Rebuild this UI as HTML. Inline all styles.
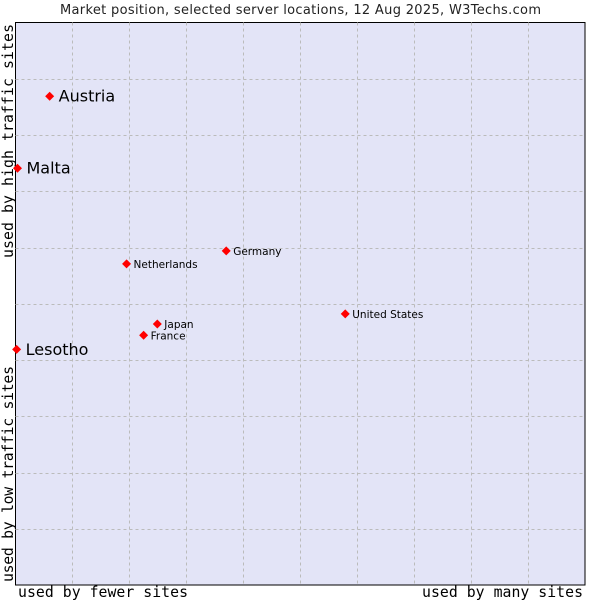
<!DOCTYPE html>
<html><head><meta charset="utf-8"><style>
body{margin:0;background:#fff;width:600px;height:600px;overflow:hidden}
svg{display:block}
</style></head><body>
<svg id="chart" width="600" height="600" xmlns="http://www.w3.org/2000/svg">
<text x="60" y="14" textLength="481" font-family="DejaVu Sans, sans-serif" font-size="13" fill="#222">Market position, selected server locations, 12 Aug 2025, W3Techs.com</text>
<rect x="15.5" y="22.5" width="569.5" height="562.5" fill="#e3e4f7" stroke="#000" stroke-width="1"/>
<g id="grid"></g>
<g id="points"></g>
<text x="18" y="597" textLength="170" font-family="DejaVu Sans Mono, Liberation Mono, monospace" font-size="14.8" fill="#000">used by fewer sites</text>
<text x="422" y="597" textLength="161" font-family="DejaVu Sans Mono, Liberation Mono, monospace" font-size="14.8" fill="#000">used by many sites</text>
<text transform="translate(13,258) rotate(-90)" textLength="234" font-family="DejaVu Sans Mono, Liberation Mono, monospace" font-size="14.8" fill="#000">used by high traffic sites</text>
<text transform="translate(13,582) rotate(-90)" textLength="216" font-family="DejaVu Sans Mono, Liberation Mono, monospace" font-size="14.8" fill="#000">used by low traffic sites</text>
</svg>
<script>
const names=["Austria","Malta","Lesotho","Netherlands","Germany","Japan","France","United States"];
const xValues=[6.0,0.35,0.2,19.5,37.0,24.9,22.5,57.9];
const yValues=[86.9,74.1,41.9,57.1,59.4,46.4,44.4,48.2];
const bigLabel=[true,true,true,false,false,false,false,false];
const gridSteps=[1,2,3,4,5,6,7,8,9];
const L=15.5,R=585,T=22.5,B=585;
const xs=v=>L+(R-L)*v/100, ys=v=>B-(B-T)*v/100;
const NS="http://www.w3.org/2000/svg";
const grid=document.getElementById('grid'), pts=document.getElementById('points');
gridSteps.forEach(s=>{
  const v=document.createElementNS(NS,'line');
  
  
  const x=Math.round(xs(s*10))+0.5;
  v.setAttribute('x1',x);v.setAttribute('x2',x);v.setAttribute('y1',T);v.setAttribute('y2',B);
  v.setAttribute('stroke','#bbb');v.setAttribute('stroke-dasharray','3,3');
  grid.appendChild(v);
  const h=document.createElementNS(NS,'line');
  
  
  const y=Math.round(ys(s*10))+0.5;
  h.setAttribute('y1',y);h.setAttribute('y2',y);h.setAttribute('x1',L);h.setAttribute('x2',R);
  h.setAttribute('stroke','#bbb');h.setAttribute('stroke-dasharray','3,3');
  grid.appendChild(h);
});
names.forEach((n,i)=>{
  const x=xs(xValues[i]), y=ys(yValues[i]);
  const p=document.createElementNS(NS,'polygon');
  
  
  p.setAttribute('points',`${x},${y-4.5} ${x+4.5},${y} ${x},${y+4.5} ${x-4.5},${y}`);
  p.setAttribute('fill','#f00');
  pts.appendChild(p);
  const t=document.createElementNS(NS,'text');
  
  
  t.setAttribute('x',x+(bigLabel[i]?9:7));
  t.setAttribute('y',y+(bigLabel[i]?5.5:4));
  t.setAttribute('font-family','DejaVu Sans, sans-serif');
  t.setAttribute('font-size',bigLabel[i]?'16':'10.5');
  t.setAttribute('fill','#000');
  t.textContent=n;
  pts.appendChild(t);
});
</script>
</body></html>
